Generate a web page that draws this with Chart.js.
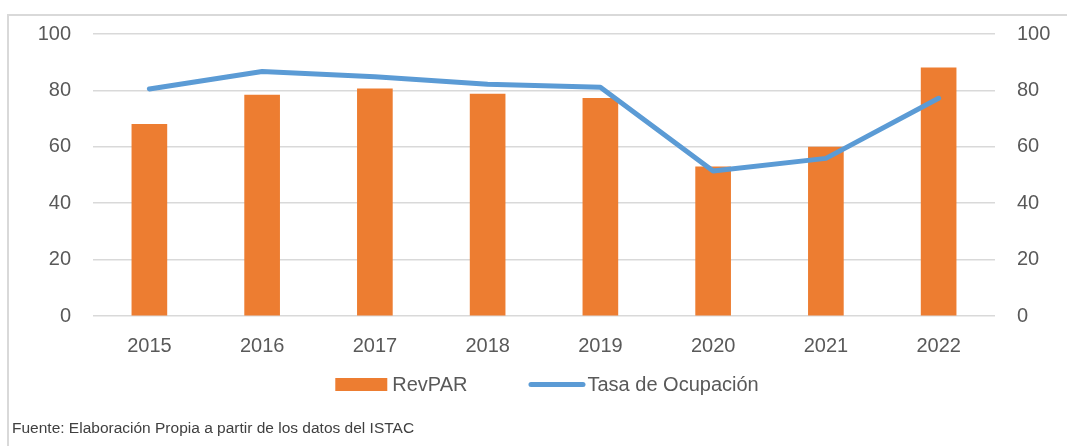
<!DOCTYPE html>
<html>
<head>
<meta charset="utf-8">
<script src="https://cdn.jsdelivr.net/npm/chart.js@4.4.1/dist/chart.umd.min.js"></script>
<style>
  html, body { margin: 0; padding: 0; background: #fff; }
  #wrap { position: relative; width: 1067px; height: 446px; overflow: hidden; }
  #frame { position: absolute; left: 7px; top: 14px; width: 1200px; height: 600px;
           border-left: 2px solid #d9d9d9; border-top: 2px solid #d9d9d9; }
  #chart { position: absolute; left: 0; top: 0; }
  #source { position: absolute; left: 12px; top: 419px; font: 15.5px 'Liberation Sans', Arial, sans-serif;
            color: #404040; white-space: nowrap; }
</style>
</head>
<body>
<div id="wrap">
  <div id="frame"></div>
  <canvas id="chart" width="1067" height="446"></canvas>
  <div id="source">Fuente: Elaboración Propia a partir de los datos del ISTAC</div>
</div>
<script>
// Chart data
const years = ['2015', '2016', '2017', '2018', '2019', '2020', '2021', '2022'];
const revpar = [68, 78.3, 80.6, 78.7, 77.2, 52.9, 59.9, 88];
const ocupacion = [80.5, 86.7, 84.8, 82.2, 81.1, 51.4, 55.9, 77.2];
const axisTicks = [0, 20, 40, 60, 80, 100];

const FONT = "'Liberation Sans', Arial, sans-serif";
const GREY = '#595959';

// legend drawn by hand so the box/label spacing matches the original
const customLegend = {
  id: 'customLegend',
  afterDraw(chart) {
    const ctx = chart.ctx;
    const ds = chart.data.datasets;
    const items = [
      { label: ds[1].label, color: ds[1].backgroundColor, type: 'bar', w: 52, gap: 5 },
      { label: ds[0].label, color: ds[0].borderColor, type: 'line', w: 57, gap: 2 }
    ];
    ctx.save();
    ctx.font = '20px ' + FONT;
    ctx.textBaseline = 'middle';
    const between = 61;
    let total = 0;
    items.forEach((it, i) => {
      it.tw = ctx.measureText(it.label).width;
      total += it.w + it.gap + it.tw + (i ? between : 0);
    });
    const cx = (chart.chartArea.left + chart.chartArea.right) / 2;
    let x = cx - total / 2 + 3;
    const y = 384.5;
    items.forEach((it) => {
      if (it.type === 'bar') {
        ctx.fillStyle = it.color;
        ctx.fillRect(x, y - 6.5, it.w, 13);
      } else {
        ctx.strokeStyle = it.color;
        ctx.lineWidth = 5;
        ctx.lineCap = 'round';
        ctx.beginPath();
        ctx.moveTo(x + 2.5, y);
        ctx.lineTo(x + it.w - 2.5, y);
        ctx.stroke();
      }
      x += it.w + it.gap;
      ctx.fillStyle = GREY;
      ctx.fillText(it.label, x, y + 1);
      x += it.tw + between;
    });
    ctx.restore();
  }
};

const ctx = document.getElementById('chart').getContext('2d');
new Chart(ctx, {
  data: {
    labels: years,
    datasets: [
      {
        type: 'line',
        label: 'Tasa de Ocupación',
        data: ocupacion,
        yAxisID: 'y1',
        borderColor: '#5B9BD5',
        backgroundColor: '#5B9BD5',
        borderWidth: 5,
        borderCapStyle: 'round',
        borderJoinStyle: 'round',
        pointRadius: 0,
        tension: 0,
        order: 0
      },
      {
        type: 'bar',
        label: 'RevPAR',
        data: revpar,
        yAxisID: 'y',
        backgroundColor: '#ED7D31',
        barThickness: 35,
        order: 1
      }
    ]
  },
  options: {
    responsive: false,
    animation: false,
    layout: { padding: { top: 28, bottom: 80, left: 0, right: 0 } },
    plugins: {
      legend: { display: false },
      tooltip: { enabled: false }
    },
    scales: {
      x: {
        grid: { display: false },
        border: { display: false },
        ticks: { color: GREY, font: { family: FONT, size: 20 }, padding: 10 },
        afterFit(scale) { scale.height = 50; }
      },
      y: {
        position: 'left',
        min: 0,
        max: 100,
        afterBuildTicks(scale) { scale.ticks = axisTicks.map(v => ({ value: v })); },
        grid: { color: '#d9d9d9', lineWidth: 1.5, drawTicks: false },
        border: { display: false },
        ticks: { color: GREY, font: { family: FONT, size: 20 }, padding: 22 },
        afterFit(scale) { scale.width = 93; }
      },
      y1: {
        position: 'right',
        min: 0,
        max: 100,
        afterBuildTicks(scale) { scale.ticks = axisTicks.map(v => ({ value: v })); },
        grid: { display: false, drawTicks: false },
        border: { display: false },
        ticks: { color: GREY, font: { family: FONT, size: 20 }, padding: 22 },
        afterFit(scale) { scale.width = 72; }
      }
    }
  },
  plugins: [customLegend]
});
</script>
</body>
</html>
